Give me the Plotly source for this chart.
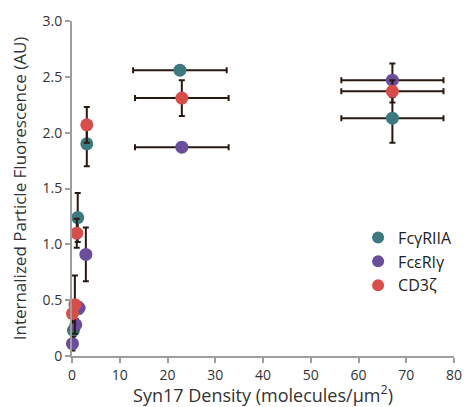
import plotly.graph_objects as go

# FcγRIIA
fc_x = [0.3, 1.2, 3.1, 22.6, 67.1]
fc_y = [0.23, 1.24, 1.90, 2.56, 2.13]
fc_ex = [0.3, 0.3, 0.7, 9.8, 10.7]
fc_ey = [0.05, 0.22, 0.20, 0.0, 0.22]

# FcεRIγ
fe_x = [0.1, 0.8, 1.5, 2.9, 23.0, 67.1]
fe_y = [0.11, 0.28, 0.43, 0.91, 1.87, 2.47]
fe_ex = [0.2, 0.3, 0.3, 1.0, 9.8, 10.7]
fe_ey = [0.06, 0.05, 0.05, 0.24, 0.0, 0.15]

# CD3ζ
cd_x = [0.1, 0.6, 1.0, 3.1, 23.0, 67.1]
cd_y = [0.38, 0.46, 1.10, 2.07, 2.31, 2.37]
cd_ex = [0.2, 0.3, 0.3, 0.9, 9.8, 10.7]
cd_ey = [0.08, 0.26, 0.13, 0.16, 0.16, 0.10]

names = ["FcγRIIA", "FcεRIγ", "CD3ζ"]
colors = ["#3d7a80", "#6a4e9c", "#d64d4a"]
series = [(fc_x, fc_y, fc_ex, fc_ey), (fe_x, fe_y, fe_ex, fe_ey), (cd_x, cd_y, cd_ex, cd_ey)]

fig = go.Figure()
ebc = "#2a1812"
for name, col, (x, y, ex, ey) in zip(names, colors, series):
    fig.add_trace(go.Scatter(
        x=x, y=y, mode="markers", name=name, cliponaxis=False,
        marker=dict(color=col, size=13),
        error_x=dict(type="data", array=ex, color=ebc, thickness=2, width=3),
        error_y=dict(type="data", array=ey, color=ebc, thickness=2, width=3),
    ))

font = "Open Sans, Lato, sans-serif"
fig.update_layout(
    width=465, height=407,
    margin=dict(l=72, r=11, t=21, b=51, autoexpand=False),
    paper_bgcolor="white", plot_bgcolor="white",
    font=dict(family=font, color="#333333", size=14),
    legend=dict(x=0.749, y=0.404, xanchor="left", yanchor="top",
                font=dict(size=16, color="#222222"), bgcolor="rgba(0,0,0,0)",
                itemsizing="constant", tracegroupgap=0),
    showlegend=True,
)
fig.update_xaxes(
    range=[0, 80], tickvals=[0, 10, 20, 30, 40, 50, 60, 70, 80], automargin=True,
    showline=True, linecolor="#9e9e9e", linewidth=2, showgrid=False, zeroline=False,
    ticks="outside", tickcolor="#9e9e9e", ticklen=5, tickwidth=2,
    title=dict(text="Syn17 Density (molecules/µm<sup>2</sup>)", font=dict(size=18), standoff=0),
)
fig.update_yaxes(
    range=[0, 3.0], tickvals=[0, 0.5, 1.0, 1.5, 2.0, 2.5, 3.0], automargin=False,
    ticktext=["0", "0.5", "1.0", "1.5", "2.0", "2.5", "3.0"],
    showline=True, linecolor="#9e9e9e", linewidth=2, showgrid=False, zeroline=False,
    ticks="outside", tickcolor="#9e9e9e", ticklen=5, tickwidth=2,
    title=dict(text="Internalized Particle Fluorescence (AU)", font=dict(size=17), standoff=12),
)
fig.write_html("out.html")
